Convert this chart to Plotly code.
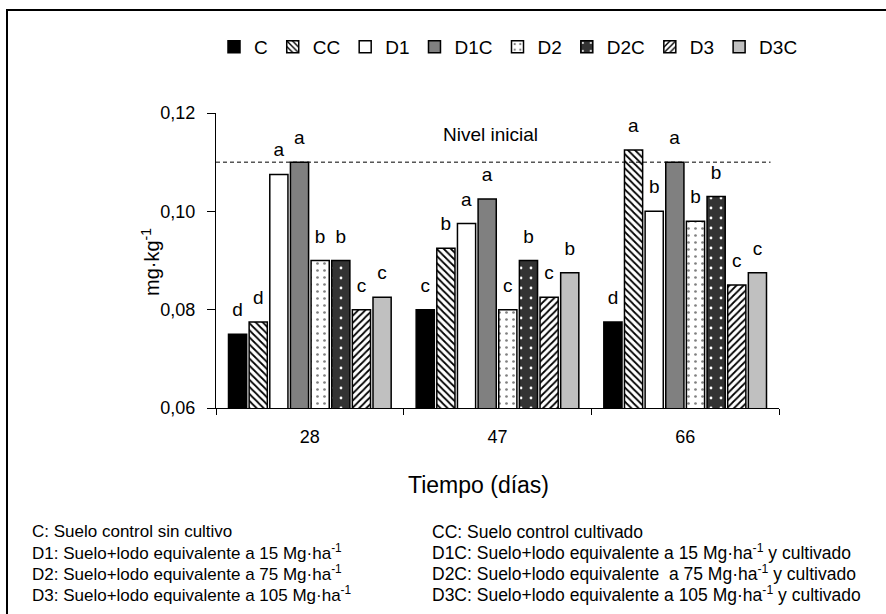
import plotly.graph_objects as go

# ---------------- data ----------------
categories = ["28", "47", "66"]
series_names = ["C", "CC", "D1", "D1C", "D2", "D2C", "D3", "D3C"]
val_C   = [0.0750, 0.0800, 0.0775]
val_CC  = [0.0775, 0.0925, 0.1125]
val_D1  = [0.1075, 0.0975, 0.1000]
val_D1C = [0.1100, 0.1025, 0.1100]
val_D2  = [0.0900, 0.0800, 0.0980]
val_D2C = [0.0900, 0.0900, 0.1030]
val_D3  = [0.0800, 0.0825, 0.0850]
val_D3C = [0.0825, 0.0875, 0.0875]
let_C   = ["d", "c", "d"]
let_CC  = ["d", "b", "a"]
let_D1  = ["a", "a", "b"]
let_D1C = ["a", "a", "a"]
let_D2  = ["b", "c", "b"]
let_D2C = ["b", "b", "b"]
let_D3  = ["c", "c", "c"]
let_D3C = ["c", "b", "c"]
initial_level = 0.110
y_ticks = [0.06, 0.08, 0.10, 0.12]

footer_left = [
    "C: Suelo control sin cultivo",
    "D1: Suelo+lodo equivalente a 15 Mg·ha<sup>-1</sup>",
    "D2: Suelo+lodo equivalente a 75 Mg·ha<sup>-1</sup>",
    "D3: Suelo+lodo equivalente a 105 Mg·ha<sup>-1</sup>",
]
footer_right = [
    "CC: Suelo control cultivado",
    "D1C: Suelo+lodo equivalente a 15 Mg·ha<sup>-1</sup> y cultivado",
    "D2C: Suelo+lodo equivalente  a 75 Mg·ha<sup>-1</sup> y cultivado",
    "D3C: Suelo+lodo equivalente a 105 Mg·ha<sup>-1</sup> y cultivado",
]

values = [val_C, val_CC, val_D1, val_D1C, val_D2, val_D2C, val_D3, val_D3C]
letters = [let_C, let_CC, let_D1, let_D1C, let_D2, let_D2C, let_D3, let_D3C]

# ---------------- styles ----------------
FONT = "Liberation Sans, Arial, sans-serif"
styles = [
    dict(color="#000000", pattern=dict(shape="")),
    dict(color="#ffffff", pattern=dict(shape="\\", fgcolor="#000000", bgcolor="#ffffff",
                                       size=5, solidity=0.35, fillmode="replace")),
    dict(color="#ffffff", pattern=dict(shape="")),
    dict(color="#808080", pattern=dict(shape="")),
    dict(color="#ffffff", pattern=dict(shape=".", fgcolor="#808080", bgcolor="#ffffff",
                                       size=7, solidity=0.12, fillmode="replace")),
    dict(color="#333333", pattern=dict(shape=".", fgcolor="#ffffff", bgcolor="#333333",
                                       size=10, solidity=0.06, fillmode="replace")),
    dict(color="#ffffff", pattern=dict(shape="/", fgcolor="#000000", bgcolor="#ffffff",
                                       size=5, solidity=0.35, fillmode="replace")),
    dict(color="#c0c0c0", pattern=dict(shape="")),
]

W, H = 886, 614
L, R, T, B = 216, 107, 113, 206
PW, PH = W - L - R, H - T - B


def px_x(px):
    return (px - L) / PW


def px_y(py):
    return (H - B - py) / PH


fig = go.Figure()
for name, vals, lets, st in zip(series_names, values, letters, styles):
    txt = [f"<span style='font-size:19px'>{t}</span><br><span style='color:rgba(0,0,0,0)'>.</span>"
           for t in lets]
    fig.add_trace(go.Bar(
        name=name, x=categories, y=vals,
        marker=dict(color=st["color"], pattern=st["pattern"],
                    line=dict(color="#000000", width=1.5)),
        text=txt, textposition="outside", textangle=0,
        textfont=dict(family=FONT, size=10, color="#000000"),
        constraintext="none", cliponaxis=False,
    ))

# dashed initial level line
fig.add_shape(type="line", xref="paper", yref="y", x0=0, x1=0.985,
              y0=initial_level, y1=initial_level,
              line=dict(color="#000000", width=1, dash="4px,3px"))
fig.add_annotation(text="Nivel inicial", xref="x", yref="paper", x=1, xshift=-7,
                   y=px_y(134), yanchor="middle", showarrow=False,
                   font=dict(family=FONT, size=19, color="#000000"))

# axis titles
fig.add_annotation(text="mg·kg<sup>-1</sup>", xref="paper", yref="paper",
                   x=px_x(150), y=px_y(262), textangle=-90, showarrow=False,
                   xanchor="center", yanchor="middle",
                   font=dict(family=FONT, size=20, color="#000000"))
fig.add_annotation(text="Tiempo (días)", xref="paper", yref="paper",
                   x=px_x(478), y=px_y(485), showarrow=False,
                   xanchor="center", yanchor="middle",
                   font=dict(family=FONT, size=23, color="#000000"))

# footer
for i, (lt, rt) in enumerate(zip(footer_left, footer_right)):
    yy = px_y(531.7 + i * 20.75)
    fig.add_annotation(text=lt, xref="paper", yref="paper", x=px_x(30), y=yy,
                       xanchor="left", yanchor="middle", showarrow=False,
                       font=dict(family=FONT, size=17, color="#000000"))
    fig.add_annotation(text=rt, xref="paper", yref="paper", x=px_x(430), y=yy,
                       xanchor="left", yanchor="middle", showarrow=False,
                       font=dict(family=FONT, size=17.5, color="#000000"))

# outer frame
fig.add_shape(type="rect", xref="paper", yref="paper",
              x0=px_x(7), x1=px_x(900), y0=px_y(630), y1=px_y(10),
              line=dict(color="#000000", width=2), fillcolor="rgba(0,0,0,0)")

fig.update_layout(
    width=W, height=H, autosize=False,
    margin=dict(l=L, r=R, t=T, b=B, pad=0),
    paper_bgcolor="#ffffff", plot_bgcolor="#ffffff",
    barmode="group", bargap=0.12, bargroupgap=0.12,
    separators=",.",
    font=dict(family=FONT, size=18, color="#000000"),
    legend=dict(orientation="h", x=px_x(214), y=px_y(47), xanchor="left", yanchor="middle",
                font=dict(family=FONT, size=19, color="#000000"),
                bgcolor="rgba(0,0,0,0)", itemclick=False, traceorder="normal"),
    showlegend=True,
    xaxis=dict(type="category", showline=True, linecolor="#000000", linewidth=1,
               ticks="outside", tickson="boundaries", ticklen=6, tickcolor="#000000",
               tickfont=dict(family=FONT, size=18), ticklabelstandoff=12,
               showgrid=False, zeroline=False, fixedrange=True),
    yaxis=dict(range=[0.06, 0.12], tickvals=y_ticks, tickformat=".2f",
               showline=True, linecolor="#000000", linewidth=1,
               ticks="outside", ticklen=8, tickcolor="#000000",
               tickfont=dict(family=FONT, size=18), ticklabelstandoff=8,
               showgrid=False, zeroline=False, fixedrange=True),
)

fig.write_html("out.html", include_plotlyjs=True, config={"displayModeBar": False})
